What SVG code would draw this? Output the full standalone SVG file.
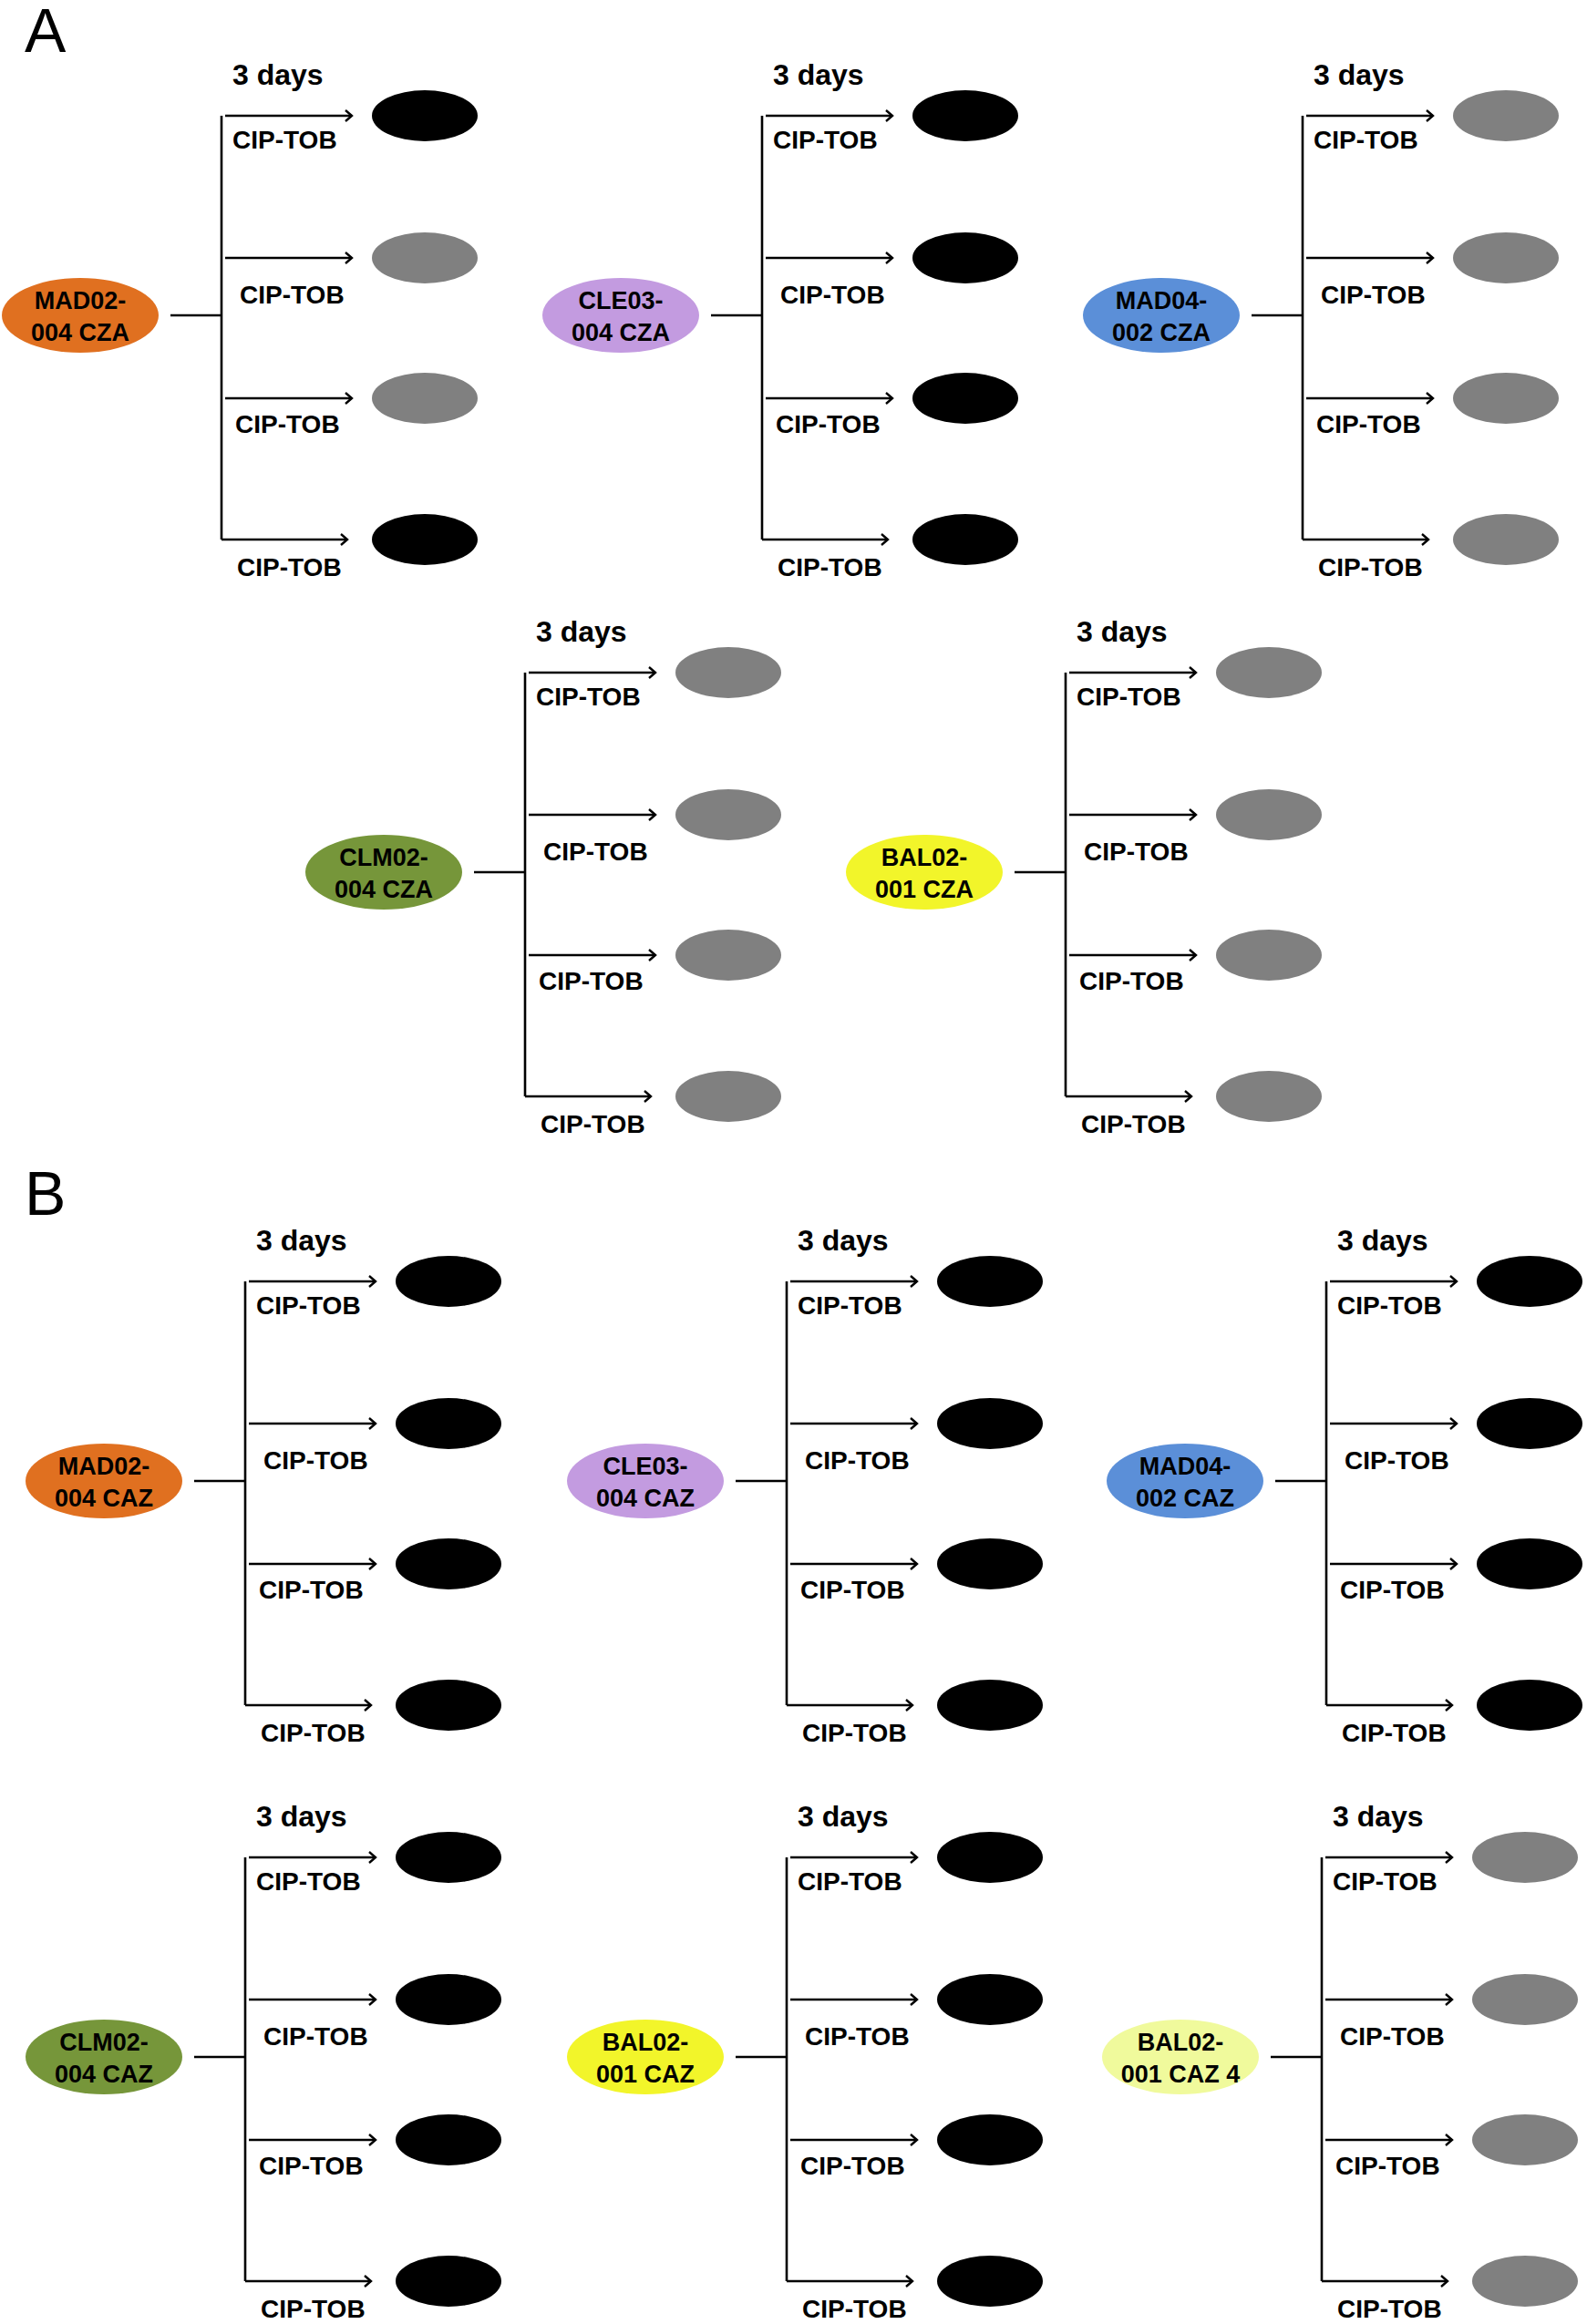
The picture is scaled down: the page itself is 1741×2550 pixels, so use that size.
<svg xmlns="http://www.w3.org/2000/svg" width="1741" height="2550" viewBox="0 0 1741 2550">
<style>
text{font-family:"Liberation Sans",Arial,sans-serif;font-weight:bold;fill:#000}
.n{font-size:27px;text-anchor:middle}
.l{font-size:28px}
.d{font-size:32px}
.big{font-size:68px;font-weight:normal}
.c{stroke:#000;stroke-width:2.6;fill:none}
.a{stroke:#000;stroke-width:2.6;fill:none;marker-end:url(#ah)}
.k{fill:#000}.g{fill:#808080}
</style>
<defs>
<marker id="ah" markerWidth="8" markerHeight="8" refX="7" refY="4" orient="auto" markerUnits="userSpaceOnUse" viewBox="0 0 8 8" overflow="visible">
<path d="M0,-2 L7,4 L0,10" fill="none" stroke="#000" stroke-width="2.4"/>
</marker>
<g id="conn">
<path class="c" d="M187,346 H243 M243,127 V592"/>
<path class="a" d="M247,127 H386"/><path class="a" d="M247,283 H386"/><path class="a" d="M247,437 H386"/><path class="a" d="M243,592 H381"/>
</g>
<g id="labs">
<text class="d" x="255" y="93">3 days</text>
<text class="l" x="255" y="163">CIP-TOB</text><text class="l" x="263" y="333">CIP-TOB</text><text class="l" x="258" y="475">CIP-TOB</text><text class="l" x="260" y="632">CIP-TOB</text>
</g>
</defs>
<text class="big" x="27" y="57">A</text>
<text class="big" x="27" y="1333">B</text>
<g id="connectors">
<use href="#conn"/><use href="#conn" x="593"/><use href="#conn" x="1186"/><use href="#conn" x="333" y="611"/><use href="#conn" x="926" y="611"/>
<use href="#conn" x="26" y="1279"/><use href="#conn" x="620" y="1279"/><use href="#conn" x="1212" y="1279"/>
<use href="#conn" x="26" y="1911"/><use href="#conn" x="620" y="1911"/><use href="#conn" x="1207" y="1911"/>
</g>
<g id="A1" transform="translate(0,0)"><ellipse cx="88" cy="346" rx="86" ry="41" fill="#E07020"/><text class="n" x="88" y="339">MAD02-</text><text class="n" x="88" y="374">004 CZA</text><use href="#labs"/>
<ellipse class="k" cx="466" cy="127" rx="58" ry="28"/><ellipse class="g" cx="466" cy="283" rx="58" ry="28"/><ellipse class="g" cx="466" cy="437" rx="58" ry="28"/><ellipse class="k" cx="466" cy="592" rx="58" ry="28"/></g>
<g id="A2" transform="translate(593,0)"><ellipse cx="88" cy="346" rx="86" ry="41" fill="#C39BE0"/><text class="n" x="88" y="339">CLE03-</text><text class="n" x="88" y="374">004 CZA</text><use href="#labs"/>
<ellipse class="k" cx="466" cy="127" rx="58" ry="28"/><ellipse class="k" cx="466" cy="283" rx="58" ry="28"/><ellipse class="k" cx="466" cy="437" rx="58" ry="28"/><ellipse class="k" cx="466" cy="592" rx="58" ry="28"/></g>
<g id="A3" transform="translate(1186,0)"><ellipse cx="88" cy="346" rx="86" ry="41" fill="#5B8FD8"/><text class="n" x="88" y="339">MAD04-</text><text class="n" x="88" y="374">002 CZA</text><use href="#labs"/>
<ellipse class="g" cx="466" cy="127" rx="58" ry="28"/><ellipse class="g" cx="466" cy="283" rx="58" ry="28"/><ellipse class="g" cx="466" cy="437" rx="58" ry="28"/><ellipse class="g" cx="466" cy="592" rx="58" ry="28"/></g>
<g id="A4" transform="translate(333,611)"><ellipse cx="88" cy="346" rx="86" ry="41" fill="#76963A"/><text class="n" x="88" y="339">CLM02-</text><text class="n" x="88" y="374">004 CZA</text><use href="#labs"/>
<ellipse class="g" cx="466" cy="127" rx="58" ry="28"/><ellipse class="g" cx="466" cy="283" rx="58" ry="28"/><ellipse class="g" cx="466" cy="437" rx="58" ry="28"/><ellipse class="g" cx="466" cy="592" rx="58" ry="28"/></g>
<g id="A5" transform="translate(926,611)"><ellipse cx="88" cy="346" rx="86" ry="41" fill="#F2F52A"/><text class="n" x="88" y="339">BAL02-</text><text class="n" x="88" y="374">001 CZA</text><use href="#labs"/>
<ellipse class="g" cx="466" cy="127" rx="58" ry="28"/><ellipse class="g" cx="466" cy="283" rx="58" ry="28"/><ellipse class="g" cx="466" cy="437" rx="58" ry="28"/><ellipse class="g" cx="466" cy="592" rx="58" ry="28"/></g>
<g id="B1" transform="translate(26,1279)"><ellipse cx="88" cy="346" rx="86" ry="41" fill="#E07020"/><text class="n" x="88" y="339">MAD02-</text><text class="n" x="88" y="374">004 CAZ</text><use href="#labs"/>
<ellipse class="k" cx="466" cy="127" rx="58" ry="28"/><ellipse class="k" cx="466" cy="283" rx="58" ry="28"/><ellipse class="k" cx="466" cy="437" rx="58" ry="28"/><ellipse class="k" cx="466" cy="592" rx="58" ry="28"/></g>
<g id="B2" transform="translate(620,1279)"><ellipse cx="88" cy="346" rx="86" ry="41" fill="#C39BE0"/><text class="n" x="88" y="339">CLE03-</text><text class="n" x="88" y="374">004 CAZ</text><use href="#labs"/>
<ellipse class="k" cx="466" cy="127" rx="58" ry="28"/><ellipse class="k" cx="466" cy="283" rx="58" ry="28"/><ellipse class="k" cx="466" cy="437" rx="58" ry="28"/><ellipse class="k" cx="466" cy="592" rx="58" ry="28"/></g>
<g id="B3" transform="translate(1212,1279)"><ellipse cx="88" cy="346" rx="86" ry="41" fill="#5B8FD8"/><text class="n" x="88" y="339">MAD04-</text><text class="n" x="88" y="374">002 CAZ</text><use href="#labs"/>
<ellipse class="k" cx="466" cy="127" rx="58" ry="28"/><ellipse class="k" cx="466" cy="283" rx="58" ry="28"/><ellipse class="k" cx="466" cy="437" rx="58" ry="28"/><ellipse class="k" cx="466" cy="592" rx="58" ry="28"/></g>
<g id="B4" transform="translate(26,1911)"><ellipse cx="88" cy="346" rx="86" ry="41" fill="#76963A"/><text class="n" x="88" y="339">CLM02-</text><text class="n" x="88" y="374">004 CAZ</text><use href="#labs"/>
<ellipse class="k" cx="466" cy="127" rx="58" ry="28"/><ellipse class="k" cx="466" cy="283" rx="58" ry="28"/><ellipse class="k" cx="466" cy="437" rx="58" ry="28"/><ellipse class="k" cx="466" cy="592" rx="58" ry="28"/></g>
<g id="B5" transform="translate(620,1911)"><ellipse cx="88" cy="346" rx="86" ry="41" fill="#F2F52A"/><text class="n" x="88" y="339">BAL02-</text><text class="n" x="88" y="374">001 CAZ</text><use href="#labs"/>
<ellipse class="k" cx="466" cy="127" rx="58" ry="28"/><ellipse class="k" cx="466" cy="283" rx="58" ry="28"/><ellipse class="k" cx="466" cy="437" rx="58" ry="28"/><ellipse class="k" cx="466" cy="592" rx="58" ry="28"/></g>
<g id="B6" transform="translate(1207,1911)"><ellipse cx="88" cy="346" rx="86" ry="41" fill="#F0FA9C"/><text class="n" x="88" y="339">BAL02-</text><text class="n" x="88" y="374">001 CAZ 4</text><use href="#labs"/>
<ellipse class="g" cx="466" cy="127" rx="58" ry="28"/><ellipse class="g" cx="466" cy="283" rx="58" ry="28"/><ellipse class="g" cx="466" cy="437" rx="58" ry="28"/><ellipse class="g" cx="466" cy="592" rx="58" ry="28"/></g>
</svg>
